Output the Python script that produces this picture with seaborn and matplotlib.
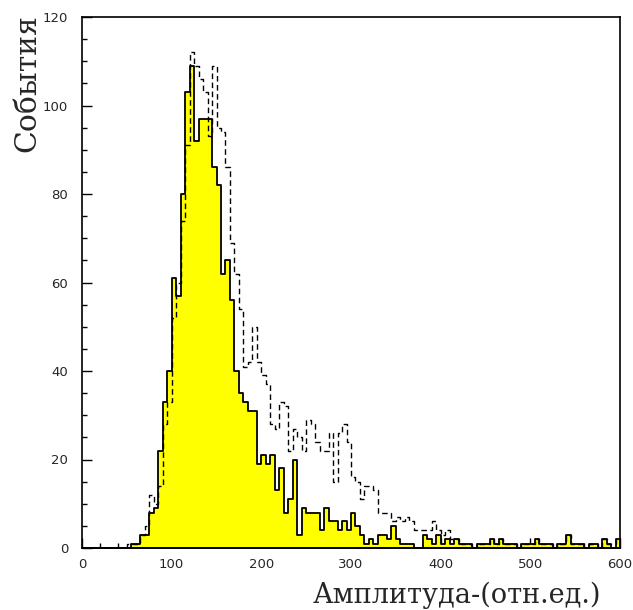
import numpy as np
import pandas as pd
import matplotlib
matplotlib.use("Agg")
import matplotlib.pyplot as plt
import seaborn as sns
from matplotlib.ticker import MultipleLocator

sns.set_style("white")

# ---- data: counts per 5-unit bin from 0 to 600 ----
solid_counts = [
    0, 0, 0, 0, 0, 0, 0, 0, 0, 0,
    0, 1, 1, 3, 3, 8, 9, 22, 33, 40,
    61, 57, 80, 103, 109, 92, 97, 97, 97, 86,
    82, 62, 65, 56, 40, 35, 33, 31, 31, 19,
    21, 19, 21, 13, 18, 8, 11, 20, 3, 9,
    8, 8, 8, 4, 9, 6, 6, 4, 6, 4,
    8, 5, 3, 1, 2, 1, 3, 3, 2, 5,
    2, 1, 1, 1, 0, 0, 3, 2, 1, 3,
    1, 2, 1, 2, 1, 1, 1, 0, 1, 1,
    1, 2, 1, 2, 1, 1, 1, 0, 1, 1,
    1, 2, 1, 1, 1, 0, 1, 1, 3, 1,
    1, 1, 0, 1, 1, 0, 2, 1, 0, 2,
]
dashed_counts = [
    0, 0, 0, 0, 0, 0, 0, 0, 0, 0,
    1, 1, 1, 3, 5, 12, 10, 14, 28, 33,
    52, 60, 74, 91, 112, 109, 106, 103, 93, 109,
    95, 94, 86, 69, 62, 54, 41, 42, 50, 42,
    39, 37, 28, 27, 33, 32, 22, 27, 25, 22,
    29, 28, 24, 22, 22, 26, 15, 26, 28, 24,
    16, 15, 11, 14, 14, 13, 8, 8, 8, 6,
    7, 6, 7, 6, 4, 4, 4, 4, 6, 4,
    3, 4, 2, 2, 1, 1, 1, 0, 1, 1,
    1, 2, 1, 2, 1, 1, 1, 0, 1, 1,
    1, 2, 1, 1, 1, 0, 1, 1, 3, 1,
    1, 1, 0, 1, 1, 0, 2, 1, 0, 2,
]
x_range = (0, 600)
bin_width = 5
y_range = (0, 120)
x_label = "Амплитуда-(отн.ед.)"
y_label = "События"

centers = np.arange(x_range[0], x_range[1], bin_width) + bin_width / 2
df = pd.DataFrame({"amp": centers, "solid": solid_counts, "dashed": dashed_counts})

W, H = 633, 610
fig = plt.figure(figsize=(W / 100, H / 100), dpi=100)
ax = fig.add_axes([82 / W, (H - 548) / H, 538 / W, 531 / H])

sns.histplot(data=df, x="amp", weights="solid", binwidth=bin_width,
             binrange=x_range, element="step",
             fill=True, color="#ffff00", alpha=1, edgecolor="black",
             linewidth=1.3, ax=ax, zorder=2)
sns.histplot(data=df, x="amp", weights="dashed", binwidth=bin_width,
             binrange=x_range, element="step",
             fill=False, color="black", linestyle=(0, (4, 2.5)),
             linewidth=1.0, ax=ax, zorder=3)

ax.set_xlim(*x_range)
ax.set_ylim(*y_range)
ax.set_xlabel("")
ax.set_ylabel("")

ax.xaxis.set_major_locator(MultipleLocator(100))
ax.xaxis.set_minor_locator(MultipleLocator(20))
ax.yaxis.set_major_locator(MultipleLocator(20))
ax.yaxis.set_minor_locator(MultipleLocator(5))
ax.tick_params(which="both", direction="in", top=False, right=False,
               bottom=True, left=True, color="black", width=1.0)
ax.tick_params(which="major", length=7.5)
ax.tick_params(which="minor", length=3.8)
ax.tick_params(axis="y", which="major", pad=10, labelsize=9.5)
ax.tick_params(axis="x", which="major", pad=7, labelsize=9.5)
for lab in ax.get_xticklabels() + ax.get_yticklabels():
    lab.set_family("DejaVu Sans")

for s in ax.spines.values():
    s.set_visible(True)
    s.set_color("black")
    s.set_linewidth(1.2)

fig.text(27 / W, 1 - 14 / H, y_label, rotation=90, ha="center", va="top",
         fontsize=21.5, family="DejaVu Serif")
fig.text(601 / W, 1 - 595 / H, x_label, ha="right", va="center",
         fontsize=19.5, family="DejaVu Serif")

fig.savefig("out.png", dpi=100, facecolor="white")
